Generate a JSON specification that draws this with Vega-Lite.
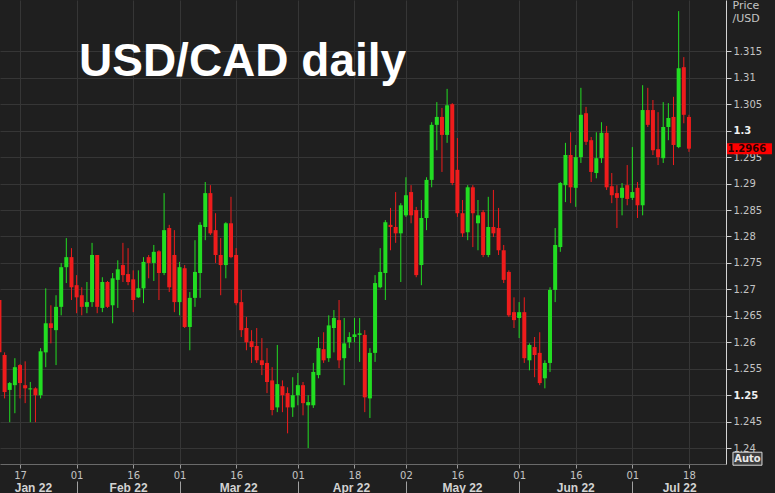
{
  "$schema": "https://vega.github.io/schema/vega-lite/v6.json",
  "width": 726,
  "height": 464,
  "autosize": {"type": "none"},
  "padding": {"left": 0, "top": 0, "right": 49, "bottom": 29},
  "background": "#1f1f1f",
  "title": {
    "text": "USD/CAD daily",
    "anchor": "start",
    "frame": "group",
    "orient": "top",
    "offset": 0,
    "baseline": "alphabetic",
    "dx": 79,
    "dy": 123,
    "font": "Liberation Sans",
    "fontSize": 46,
    "fontWeight": "bold",
    "color": "#ffffff"
  },
  "config": {
    "view": {"stroke": null},
    "axis": {"labelFont": "DejaVu Sans", "titleFont": "DejaVu Sans"}
  },
  "data": {
    "values": [
      {"day": -4, "open": 1.2680, "high": 1.2689, "low": 1.2566, "close": 1.2581},
      {"day": -3, "open": 1.2576, "high": 1.2581, "low": 1.2494, "close": 1.2506},
      {"day": -2, "open": 1.2510, "high": 1.2525, "low": 1.2449, "close": 1.2523},
      {"day": -1, "open": 1.2519, "high": 1.2570, "low": 1.2466, "close": 1.2553},
      {"day": 0, "open": 1.2557, "high": 1.2559, "low": 1.2494, "close": 1.2523},
      {"day": 1, "open": 1.2519, "high": 1.2564, "low": 1.2485, "close": 1.2513},
      {"day": 2, "open": 1.2511, "high": 1.2525, "low": 1.2449, "close": 1.2513},
      {"day": 3, "open": 1.2513, "high": 1.2515, "low": 1.2449, "close": 1.2500},
      {"day": 4, "open": 1.2500, "high": 1.2589, "low": 1.2494, "close": 1.2583},
      {"day": 5, "open": 1.2581, "high": 1.2702, "low": 1.2553, "close": 1.2636},
      {"day": 6, "open": 1.2636, "high": 1.2670, "low": 1.2598, "close": 1.2627},
      {"day": 7, "open": 1.2623, "high": 1.2689, "low": 1.2557, "close": 1.2667},
      {"day": 8, "open": 1.2667, "high": 1.2750, "low": 1.2651, "close": 1.2742},
      {"day": 9, "open": 1.2742, "high": 1.2797, "low": 1.2712, "close": 1.2761},
      {"day": 10, "open": 1.2761, "high": 1.2778, "low": 1.2680, "close": 1.2704},
      {"day": 11, "open": 1.2708, "high": 1.2727, "low": 1.2655, "close": 1.2685},
      {"day": 12, "open": 1.2689, "high": 1.2704, "low": 1.2651, "close": 1.2667},
      {"day": 13, "open": 1.2667, "high": 1.2714, "low": 1.2655, "close": 1.2676},
      {"day": 14, "open": 1.2676, "high": 1.2788, "low": 1.2667, "close": 1.2765},
      {"day": 15, "open": 1.2765, "high": 1.2765, "low": 1.2655, "close": 1.2667},
      {"day": 16, "open": 1.2665, "high": 1.2723, "low": 1.2657, "close": 1.2714},
      {"day": 17, "open": 1.2714, "high": 1.2716, "low": 1.2665, "close": 1.2667},
      {"day": 18, "open": 1.2670, "high": 1.2731, "low": 1.2636, "close": 1.2721},
      {"day": 19, "open": 1.2718, "high": 1.2755, "low": 1.2665, "close": 1.2738},
      {"day": 20, "open": 1.2746, "high": 1.2788, "low": 1.2714, "close": 1.2727},
      {"day": 21, "open": 1.2729, "high": 1.2778, "low": 1.2708, "close": 1.2714},
      {"day": 22, "open": 1.2719, "high": 1.2736, "low": 1.2657, "close": 1.2680},
      {"day": 23, "open": 1.2685, "high": 1.2736, "low": 1.2684, "close": 1.2702},
      {"day": 24, "open": 1.2702, "high": 1.2761, "low": 1.2674, "close": 1.2752},
      {"day": 25, "open": 1.2761, "high": 1.2765, "low": 1.2721, "close": 1.2750},
      {"day": 26, "open": 1.2750, "high": 1.2784, "low": 1.2716, "close": 1.2771},
      {"day": 27, "open": 1.2772, "high": 1.2774, "low": 1.2680, "close": 1.2731},
      {"day": 28, "open": 1.2731, "high": 1.2882, "low": 1.2727, "close": 1.2812},
      {"day": 29, "open": 1.2816, "high": 1.2822, "low": 1.2695, "close": 1.2704},
      {"day": 30, "open": 1.2765, "high": 1.2812, "low": 1.2657, "close": 1.2676},
      {"day": 31, "open": 1.2676, "high": 1.2752, "low": 1.2651, "close": 1.2742},
      {"day": 32, "open": 1.2740, "high": 1.2746, "low": 1.2627, "close": 1.2629},
      {"day": 33, "open": 1.2629, "high": 1.2695, "low": 1.2585, "close": 1.2684},
      {"day": 34, "open": 1.2684, "high": 1.2793, "low": 1.2667, "close": 1.2733},
      {"day": 35, "open": 1.2731, "high": 1.2827, "low": 1.2684, "close": 1.2822},
      {"day": 36, "open": 1.2818, "high": 1.2903, "low": 1.2793, "close": 1.2882},
      {"day": 37, "open": 1.2882, "high": 1.2897, "low": 1.2803, "close": 1.2806},
      {"day": 38, "open": 1.2812, "high": 1.2844, "low": 1.2750, "close": 1.2765},
      {"day": 39, "open": 1.2765, "high": 1.2797, "low": 1.2689, "close": 1.2746},
      {"day": 40, "open": 1.2746, "high": 1.2827, "low": 1.2721, "close": 1.2825},
      {"day": 41, "open": 1.2825, "high": 1.2875, "low": 1.2759, "close": 1.2761},
      {"day": 42, "open": 1.2765, "high": 1.2778, "low": 1.2670, "close": 1.2674},
      {"day": 43, "open": 1.2676, "high": 1.2699, "low": 1.2610, "close": 1.2623},
      {"day": 44, "open": 1.2627, "high": 1.2648, "low": 1.2585, "close": 1.2600},
      {"day": 45, "open": 1.2602, "high": 1.2623, "low": 1.2561, "close": 1.2591},
      {"day": 46, "open": 1.2593, "high": 1.2627, "low": 1.2561, "close": 1.2566},
      {"day": 47, "open": 1.2566, "high": 1.2608, "low": 1.2538, "close": 1.2557},
      {"day": 48, "open": 1.2561, "high": 1.2589, "low": 1.2504, "close": 1.2525},
      {"day": 49, "open": 1.2528, "high": 1.2553, "low": 1.2462, "close": 1.2472},
      {"day": 50, "open": 1.2477, "high": 1.2595, "low": 1.2468, "close": 1.2521},
      {"day": 51, "open": 1.2517, "high": 1.2528, "low": 1.2468, "close": 1.2500},
      {"day": 52, "open": 1.2504, "high": 1.2515, "low": 1.2428, "close": 1.2477},
      {"day": 53, "open": 1.2477, "high": 1.2534, "low": 1.2459, "close": 1.2500},
      {"day": 54, "open": 1.2500, "high": 1.2542, "low": 1.2481, "close": 1.2519},
      {"day": 55, "open": 1.2519, "high": 1.2525, "low": 1.2462, "close": 1.2485},
      {"day": 56, "open": 1.2481, "high": 1.2500, "low": 1.2400, "close": 1.2487},
      {"day": 57, "open": 1.2481, "high": 1.2561, "low": 1.2476, "close": 1.2544},
      {"day": 58, "open": 1.2538, "high": 1.2610, "low": 1.2532, "close": 1.2589},
      {"day": 59, "open": 1.2587, "high": 1.2619, "low": 1.2561, "close": 1.2566},
      {"day": 60, "open": 1.2570, "high": 1.2651, "low": 1.2563, "close": 1.2632},
      {"day": 61, "open": 1.2627, "high": 1.2661, "low": 1.2581, "close": 1.2646},
      {"day": 62, "open": 1.2642, "high": 1.2680, "low": 1.2551, "close": 1.2566},
      {"day": 63, "open": 1.2570, "high": 1.2646, "low": 1.2519, "close": 1.2598},
      {"day": 64, "open": 1.2600, "high": 1.2619, "low": 1.2589, "close": 1.2610},
      {"day": 65, "open": 1.2610, "high": 1.2646, "low": 1.2600, "close": 1.2615},
      {"day": 66, "open": 1.2614, "high": 1.2646, "low": 1.2563, "close": 1.2617},
      {"day": 67, "open": 1.2614, "high": 1.2623, "low": 1.2468, "close": 1.2496},
      {"day": 68, "open": 1.2494, "high": 1.2589, "low": 1.2457, "close": 1.2580},
      {"day": 69, "open": 1.2580, "high": 1.2727, "low": 1.2563, "close": 1.2712},
      {"day": 70, "open": 1.2704, "high": 1.2778, "low": 1.2702, "close": 1.2733},
      {"day": 71, "open": 1.2731, "high": 1.2831, "low": 1.2680, "close": 1.2827},
      {"day": 72, "open": 1.2822, "high": 1.2854, "low": 1.2774, "close": 1.2818},
      {"day": 73, "open": 1.2818, "high": 1.2884, "low": 1.2788, "close": 1.2806},
      {"day": 74, "open": 1.2806, "high": 1.2863, "low": 1.2714, "close": 1.2859},
      {"day": 75, "open": 1.2840, "high": 1.2912, "low": 1.2837, "close": 1.2878},
      {"day": 76, "open": 1.2884, "high": 1.2897, "low": 1.2825, "close": 1.2840},
      {"day": 77, "open": 1.2850, "high": 1.2856, "low": 1.2723, "close": 1.2727},
      {"day": 78, "open": 1.2746, "high": 1.2869, "low": 1.2708, "close": 1.2835},
      {"day": 79, "open": 1.2835, "high": 1.2912, "low": 1.2812, "close": 1.2907},
      {"day": 80, "open": 1.2907, "high": 1.3016, "low": 1.2893, "close": 1.3011},
      {"day": 81, "open": 1.3011, "high": 1.3054, "low": 1.2963, "close": 1.3026},
      {"day": 82, "open": 1.3026, "high": 1.3043, "low": 1.2922, "close": 1.2992},
      {"day": 83, "open": 1.2992, "high": 1.3079, "low": 1.2977, "close": 1.3048},
      {"day": 84, "open": 1.3050, "high": 1.3052, "low": 1.2897, "close": 1.2901},
      {"day": 85, "open": 1.2926, "high": 1.2986, "low": 1.2837, "close": 1.2844},
      {"day": 86, "open": 1.2844, "high": 1.2869, "low": 1.2799, "close": 1.2806},
      {"day": 87, "open": 1.2808, "high": 1.2897, "low": 1.2793, "close": 1.2893},
      {"day": 88, "open": 1.2893, "high": 1.2897, "low": 1.2780, "close": 1.2844},
      {"day": 89, "open": 1.2825, "high": 1.2869, "low": 1.2774, "close": 1.2840},
      {"day": 90, "open": 1.2846, "high": 1.2850, "low": 1.2761, "close": 1.2765},
      {"day": 91, "open": 1.2765, "high": 1.2875, "low": 1.2761, "close": 1.2818},
      {"day": 92, "open": 1.2818, "high": 1.2888, "low": 1.2799, "close": 1.2806},
      {"day": 93, "open": 1.2816, "high": 1.2854, "low": 1.2765, "close": 1.2774},
      {"day": 94, "open": 1.2774, "high": 1.2784, "low": 1.2712, "close": 1.2718},
      {"day": 95, "open": 1.2733, "high": 1.2736, "low": 1.2648, "close": 1.2651},
      {"day": 96, "open": 1.2657, "high": 1.2685, "low": 1.2627, "close": 1.2642},
      {"day": 97, "open": 1.2646, "high": 1.2676, "low": 1.2608, "close": 1.2657},
      {"day": 98, "open": 1.2657, "high": 1.2685, "low": 1.2561, "close": 1.2570},
      {"day": 99, "open": 1.2566, "high": 1.2598, "low": 1.2547, "close": 1.2595},
      {"day": 100, "open": 1.2591, "high": 1.2610, "low": 1.2534, "close": 1.2576},
      {"day": 101, "open": 1.2580, "high": 1.2619, "low": 1.2519, "close": 1.2523},
      {"day": 102, "open": 1.2532, "high": 1.2566, "low": 1.2513, "close": 1.2561},
      {"day": 103, "open": 1.2561, "high": 1.2704, "low": 1.2544, "close": 1.2699},
      {"day": 104, "open": 1.2699, "high": 1.2816, "low": 1.2676, "close": 1.2784},
      {"day": 105, "open": 1.2780, "high": 1.2903, "low": 1.2771, "close": 1.2901},
      {"day": 106, "open": 1.2897, "high": 1.2977, "low": 1.2865, "close": 1.2954},
      {"day": 107, "open": 1.2954, "high": 1.2997, "low": 1.2863, "close": 1.2893},
      {"day": 108, "open": 1.2892, "high": 1.2973, "low": 1.2856, "close": 1.2950},
      {"day": 109, "open": 1.2950, "high": 1.3081, "low": 1.2939, "close": 1.3030},
      {"day": 110, "open": 1.3033, "high": 1.3045, "low": 1.2973, "close": 1.2979},
      {"day": 111, "open": 1.2982, "high": 1.2988, "low": 1.2903, "close": 1.2922},
      {"day": 112, "open": 1.2920, "high": 1.2997, "low": 1.2910, "close": 1.2948},
      {"day": 113, "open": 1.2948, "high": 1.3016, "low": 1.2939, "close": 1.2996},
      {"day": 114, "open": 1.2996, "high": 1.3009, "low": 1.2888, "close": 1.2893},
      {"day": 115, "open": 1.2895, "high": 1.2920, "low": 1.2863, "close": 1.2878},
      {"day": 116, "open": 1.2882, "high": 1.2897, "low": 1.2816, "close": 1.2873},
      {"day": 117, "open": 1.2873, "high": 1.2901, "low": 1.2840, "close": 1.2892},
      {"day": 118, "open": 1.2897, "high": 1.2935, "low": 1.2859, "close": 1.2871},
      {"day": 119, "open": 1.2873, "high": 1.2969, "low": 1.2869, "close": 1.2884},
      {"day": 120, "open": 1.2892, "high": 1.2903, "low": 1.2835, "close": 1.2859},
      {"day": 121, "open": 1.2859, "high": 1.3086, "low": 1.2840, "close": 1.3039},
      {"day": 122, "open": 1.3039, "high": 1.3081, "low": 1.3007, "close": 1.3011},
      {"day": 123, "open": 1.3039, "high": 1.3058, "low": 1.2954, "close": 1.2963},
      {"day": 124, "open": 1.2965, "high": 1.3035, "low": 1.2935, "close": 1.2950},
      {"day": 125, "open": 1.2948, "high": 1.3054, "low": 1.2939, "close": 1.3007},
      {"day": 126, "open": 1.3007, "high": 1.3052, "low": 1.2982, "close": 1.3024},
      {"day": 127, "open": 1.3026, "high": 1.3064, "low": 1.2935, "close": 1.2973},
      {"day": 128, "open": 1.2969, "high": 1.3226, "low": 1.2967, "close": 1.3118},
      {"day": 129, "open": 1.3120, "high": 1.3139, "low": 1.3014, "close": 1.3030},
      {"day": 130, "open": 1.3026, "high": 1.3030, "low": 1.2960, "close": 1.2966}
    ]
  },
  "resolve": {"axis": {"x": "independent", "y": "independent"}},
  "layer": [
    {
      "mark": {"type": "rule", "strokeWidth": 1, "clip": true},
      "encoding": {
        "x": {
          "field": "day", "type": "quantitative",
          "scale": {"domain": [-3.89, 137.2], "nice": false, "zero": false, "padding": 0},
          "axis": {
            "orient": "bottom",
            "values": [0, 11, 22, 31, 42, 54, 65, 75, 85, 97, 108, 119, 130],
            "labelExpr": "['17','01','16','01','16','01','18','02','16','01','16','01','18'][indexof([0,11,22,31,42,54,65,75,85,97,108,119,130], datum.value)]",
            "title": null,
            "grid": true, "gridColor": "#363636", "gridWidth": 1,
            "ticks": true, "tickSize": 4, "tickColor": "#9a9a9a",
            "domain": true, "domainColor": "#6a6a6a",
            "labelColor": "#c4c4c4", "labelFontSize": 10, "labelPadding": 2,
            "labelFlush": false, "labelOverlap": false
          }
        },
        "y": {
          "field": "low", "type": "quantitative",
          "scale": {"domain": [1.237, 1.3247], "nice": false, "zero": false, "padding": 0},
          "axis": {
            "orient": "right",
            "values": [1.24, 1.245, 1.25, 1.255, 1.26, 1.265, 1.27, 1.275, 1.28, 1.285, 1.29, 1.295, 1.3, 1.305, 1.31, 1.315],
            "format": ".3~f",
            "grid": true, "gridColor": "#363636", "gridWidth": 1,
            "tickSize": 5, "tickColor": "#cfcfcf",
            "domain": true, "domainColor": "#d4d4d4",
            "labelFontSize": 10, "labelPadding": 2,
            "labelFlush": false, "labelOverlap": false,
            "labelFontWeight": {"condition": {"test": "datum.value == 1.3 || datum.value == 1.25", "value": "bold"}, "value": "normal"},
            "labelColor": {"condition": {"test": "datum.value == 1.3 || datum.value == 1.25", "value": "#f0f0f0"}, "value": "#c4c4c4"},
            "title": ["Price", "/USD"],
            "titleAngle": 0, "titleAlign": "left", "titleBaseline": "alphabetic",
            "titleX": 6, "titleY": 8, "titleFontSize": 11, "titleFontWeight": "normal",
            "titleColor": "#c4c4c4", "titleLineHeight": 13
          }
        },
        "y2": {"field": "high"},
        "color": {"condition": {"test": "datum.close >= datum.open", "value": "#22dd22"}, "value": "#ee1c1c"}
      }
    },
    {
      "mark": {"type": "bar", "width": 4, "clip": true},
      "encoding": {
        "x": {
          "field": "day", "type": "quantitative",
          "scale": {"domain": [-3.89, 137.2], "nice": false, "zero": false, "padding": 0},
          "axis": {
            "orient": "bottom",
            "values": [2.5, 21, 42.4, 64.3, 85.9, 107.9, 128.1],
            "labelExpr": "['Jan 22','Feb 22','Mar 22','Apr 22','May 22','Jun 22','Jul 22'][indexof([2.5,21,42.4,64.3,85.9,107.9,128.1], datum.value)]",
            "title": null, "grid": false, "ticks": false, "tickSize": 0, "domain": false,
            "labelPadding": 18, "labelColor": "#d2d2d2", "labelFont": "Liberation Sans",
            "labelFontSize": 12, "labelFontWeight": "bold",
            "labelFlush": false, "labelOverlap": false
          }
        },
        "y": {"field": "open", "type": "quantitative", "axis": null},
        "y2": {"field": "close"},
        "color": {"condition": {"test": "datum.close >= datum.open", "value": "#22dd22"}, "value": "#ee1c1c"}
      }
    },
    {
      "transform": [{"filter": "datum.day == 130"}],
      "mark": {"type": "tick", "orient": "horizontal", "size": 45, "thickness": 11, "color": "#ff0000", "opacity": 1},
      "encoding": {
        "x": {
          "datum": 141.76, "type": "quantitative",
          "scale": {"domain": [-3.89, 137.2], "nice": false, "zero": false, "padding": 0},
          "axis": {
            "orient": "bottom",
            "values": [11, 31, 54, 75, 97, 119],
            "offset": 17, "ticks": true, "tickSize": 12, "tickColor": "#a0a0a0",
            "labels": false, "domain": false, "grid": false, "title": null
          }
        },
        "y": {"field": "close", "type": "quantitative", "axis": null}
      }
    },
    {
      "transform": [{"filter": "datum.day == 130"}],
      "mark": {"type": "text", "align": "left", "baseline": "middle", "font": "DejaVu Sans", "fontSize": 10, "fontWeight": "bold", "color": "#2a0000", "dy": 0.5},
      "encoding": {
        "x": {"datum": 137.5, "type": "quantitative", "axis": null},
        "y": {"field": "close", "type": "quantitative", "axis": null},
        "text": {"field": "close", "format": ".4f"}
      }
    },
    {
      "data": {"values": [{"label": "Auto"}]},
      "mark": {"type": "tick", "orient": "horizontal", "size": 29, "thickness": 13, "color": "#3c3c3c", "stroke": "#dcdcdc", "strokeWidth": 1, "opacity": 1},
      "encoding": {
        "x": {"datum": 141.37, "type": "quantitative", "axis": null},
        "y": {"datum": 1.2380, "type": "quantitative", "axis": null}
      }
    },
    {
      "data": {"values": [{"label": "Auto"}]},
      "mark": {"type": "text", "align": "center", "baseline": "middle", "font": "DejaVu Sans", "fontSize": 10, "fontWeight": "bold", "color": "#e8e8e8"},
      "encoding": {
        "x": {"datum": 141.37, "type": "quantitative", "axis": null},
        "y": {"datum": 1.2380, "type": "quantitative", "axis": null},
        "text": {"field": "label"}
      }
    }
  ]
}
